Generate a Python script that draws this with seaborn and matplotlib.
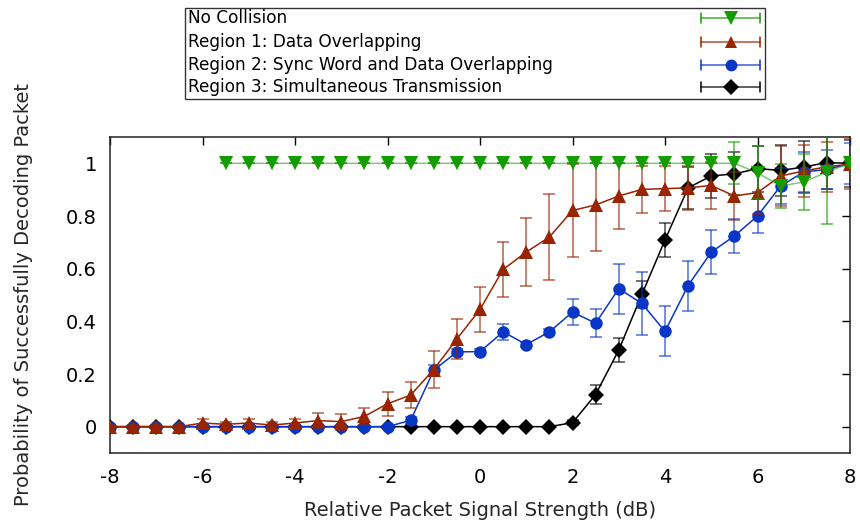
import matplotlib
matplotlib.use("Agg")
import matplotlib.pyplot as plt
import seaborn as sns
import pandas as pd
from matplotlib.lines import Line2D
from matplotlib.patches import Rectangle

# relative signal strength (dB)
x_all = [-8, -7.5, -7, -6.5, -6, -5.5, -5, -4.5, -4, -3.5, -3, -2.5, -2, -1.5, -1, -0.5,
         0, 0.5, 1, 1.5, 2, 2.5, 3, 3.5, 4, 4.5, 5, 5.5, 6, 6.5, 7, 7.5, 8]
x_nc = x_all[5:]

# No Collision
nc_y = [1.0] * 23 + [0.964, 0.914, 0.929, 0.967, 1.0]
nc_err = [0.0] * 22 + [0.08, 0.10, 0.085, 0.108, 0.196, 0.01]

# Region 1: Data Overlapping
r1_y = [0, 0, 0, 0, 0.014, 0.009, 0.014, 0.006, 0.014, 0.023, 0.019, 0.039, 0.087, 0.12,
        0.217, 0.333, 0.445, 0.597, 0.663, 0.72, 0.821, 0.842, 0.876, 0.901, 0.904, 0.907,
        0.916, 0.876, 0.889, 0.952, 0.971, 0.987, 0.997]
r1_err = [0.005, 0.005, 0.005, 0.005, 0.015, 0.01, 0.015, 0.01, 0.015, 0.03, 0.03, 0.032,
          0.046, 0.049, 0.072, 0.077, 0.087, 0.105, 0.13, 0.163, 0.177, 0.176, 0.127, 0.088,
          0.084, 0.083, 0.088, 0.09, 0.08, 0.115, 0.1, 0.095, 0.095]

# Region 2: Sync Word and Data Overlapping
r2_y = [0] * 13 + [0.024, 0.214, 0.284, 0.285, 0.36, 0.312, 0.36, 0.435, 0.393, 0.524,
                   0.468, 0.362, 0.536, 0.663, 0.724, 0.8, 0.914, 0.967, 0.977, 0.999]
r2_err = [0.003] * 13 + [0.012, 0.022, 0.012, 0.01, 0.03, 0.01, 0.012, 0.048, 0.053, 0.095,
                         0.12, 0.095, 0.095, 0.083, 0.065, 0.066, 0.07, 0.075, 0.075, 0.078]

# Region 3: Simultaneous Transmission
r3_y = [0] * 20 + [0.015, 0.122, 0.291, 0.502, 0.709, 0.907, 0.952, 0.96, 0.98, 0.973,
                   0.986, 1.003, 1.0]
r3_err = [0.002] * 20 + [0.01, 0.035, 0.045, 0.05, 0.066, 0.08, 0.085, 0.082, 0.087, 0.098,
                         0.1, 0.1, 0.09]

labels = ["No Collision", "Region 1: Data Overlapping",
          "Region 2: Sync Word and Data Overlapping", "Region 3: Simultaneous Transmission"]

sns.set_style("white")
plt.rcParams['font.family'] = ['DejaVu Sans']

W, H = 860, 527
fig = plt.figure(figsize=(W / 100, H / 100), dpi=100)
ax = fig.add_axes([110 / W, 1 - 453 / H, 740 / W, 316 / H])

series = [
    # label, x, y, err, colour, marker, size, zorder
    (labels[3], x_all, r3_y, r3_err, "#000000", "D", 8.5, 3),
    (labels[2], x_all, r2_y, r2_err, "#0a36c8", "o", 9, 4),
    (labels[1], x_all, r1_y, r1_err, "#992400", "^", 9.5, 5),
    (labels[0], x_nc, nc_y, nc_err, "#159c00", "v", 10, 6),
]

for lab, xs, ys, es, col, mk, ms, z in series:
    df = pd.DataFrame({"x": xs, "y": ys})
    ax.errorbar(xs, ys, yerr=es, fmt="none", ecolor=col, elinewidth=1.2, capsize=4.5,
                capthick=1.2, alpha=0.65, zorder=z)
    sns.lineplot(data=df, x="x", y="y", ax=ax, color=col, lw=1.1, marker=mk, ms=ms,
                 mec=col, mew=0, zorder=z + 0.5,
                 alpha=0.55 if lab == labels[0] else 1.0)
    if lab == labels[0]:
        ax.plot(xs, ys, ls="none", marker=mk, ms=ms, color=col, mew=0, zorder=z + 0.6)

ax.set_xlim(-8, 8)
ax.set_ylim(-0.1, 1.1)
ax.set_xticks([-8, -6, -4, -2, 0, 2, 4, 6, 8])
ax.set_xticklabels(["-8", "-6", "-4", "-2", "0", "2", "4", "6", "8"])
ax.set_yticks([0, 0.2, 0.4, 0.6, 0.8, 1.0])
ax.set_yticklabels(["0", "0.2", "0.4", "0.6", "0.8", "1"])
ax.tick_params(direction="in", length=6, width=1, top=True, right=True, labelsize=14,
               colors="black")
ax.tick_params(axis="x", pad=11)
ax.tick_params(axis="y", pad=9.5)
for s in ax.spines.values():
    s.set_color("#222222")
    s.set_linewidth(1.1)
ax.set_xlabel("Relative Packet Signal Strength (dB)", fontsize=14, labelpad=10)
ax.set_ylabel("Probability of Successfully Decoding Packet", fontsize=14, labelpad=24)

# gnuplot-style key above the plot: text left, sample on the right
def fx(px):
    return px / W


def fy(py):
    return 1 - py / H


fig.add_artist(Rectangle((fx(185), fy(99)), fx(765) - fx(185), fy(8) - fy(99),
                         transform=fig.transFigure, fill=False, ec="#333333", lw=1.0))
rows_y = [18, 42, 65, 87]
for (lab, xs, ys, es, col, mk, ms, z), ry in zip(reversed(series), rows_y):
    fig.text(fx(188), fy(ry), lab, ha="left", va="center", fontsize=12.2, color="black")
    fig.add_artist(Line2D([fx(701), fx(760)], [fy(ry), fy(ry)], color=col, lw=1.1,
                          alpha=0.8, transform=fig.transFigure))
    for cx in (701, 760):
        fig.add_artist(Line2D([fx(cx), fx(cx)], [fy(ry - 5), fy(ry + 5)], color=col,
                              lw=1.1, transform=fig.transFigure))
    fig.add_artist(Line2D([fx(730.5)], [fy(ry)], color=col, marker=mk, ms=ms - 0.5,
                          mew=0, ls="none", transform=fig.transFigure))

fig.savefig("out.png", dpi=100)
